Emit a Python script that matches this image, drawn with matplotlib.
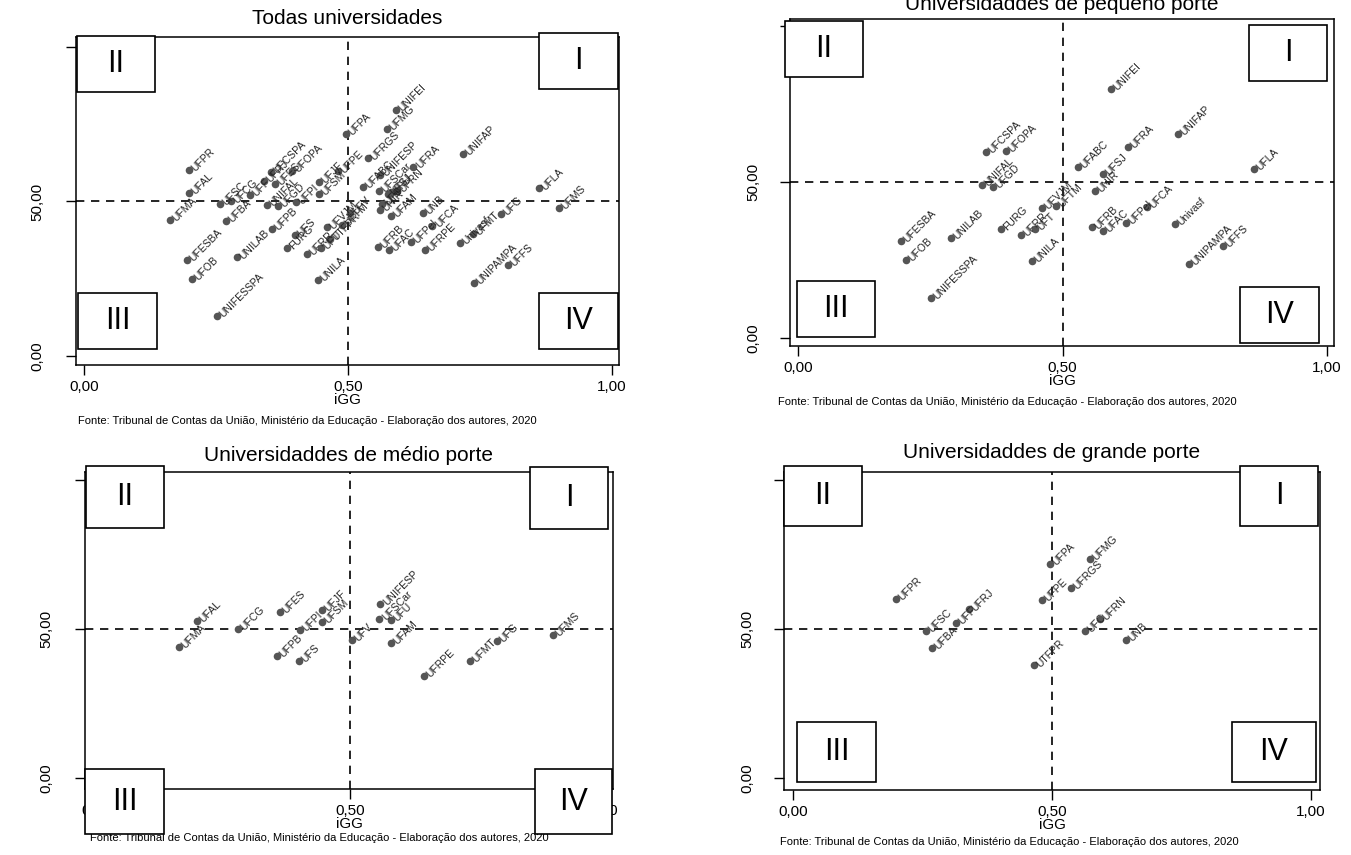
import numpy as np
import matplotlib
matplotlib.use("Agg")
import matplotlib.pyplot as plt
from matplotlib.patches import Rectangle

plt.rcParams['font.family'] = ['Liberation Sans', 'DejaVu Sans']

# universidades de pequeno porte: nome, iGG, outro indice
peq_nomes = ["UFCSPA", "UFOPA", "UNIFAL", "UFGD", "UFESBA", "UFOB", "UNILAB",
             "UNIFESSPA", "FURG", "UFRR", "UFT", "UFVJM", "UFTM", "UNILA",
             "UNIFEI", "UNIFAP", "UFRA", "UFABC", "UFSJ", "UNIR", "UFLA",
             "UFRB", "UFAC", "UFPel", "UFCA", "Univasf", "UNIPAMPA", "UFFS"]
peq_x = [0.355, 0.393, 0.347, 0.368, 0.195, 0.204, 0.289,
         0.251, 0.384, 0.422, 0.448, 0.461, 0.488, 0.443,
         0.591, 0.718, 0.624, 0.529, 0.576, 0.561, 0.862,
         0.556, 0.577, 0.620, 0.660, 0.712, 0.739, 0.803]
peq_y = [59.5, 59.9, 49.0, 48.5, 31.2, 25.0, 31.9,
         12.9, 34.9, 32.9, 34.9, 41.6, 42.3, 24.7,
         79.7, 65.4, 61.3, 54.7, 52.5, 47.2, 54.2,
         35.4, 34.3, 36.8, 42.1, 36.5, 23.7, 29.6]

# universidades de medio porte
med_nomes = ["UFMA", "UFAL", "UFCG", "UFES", "UFPB", "UFS", "UFPI", "UFJF",
             "UFSM", "UFV", "UNIFESP", "UFSCar", "UFU", "UFAM", "UFRPE",
             "UFMT", "UFG", "UFMS"]
med_x = [0.163, 0.198, 0.279, 0.362, 0.356, 0.399, 0.402, 0.445,
         0.445, 0.503, 0.560, 0.558, 0.581, 0.581, 0.646,
         0.736, 0.789, 0.899]
med_y = [43.9, 52.7, 50.0, 55.8, 41.0, 39.3, 49.7, 56.4,
         52.5, 46.3, 58.5, 53.5, 53.0, 45.4, 34.2,
         39.4, 46.1, 47.9]

# universidades de grande porte
gra_nomes = ["UFPR", "UFSC", "UFBA", "UFF", "UFRJ", "UFPA", "UFPE", "UFRGS",
             "UFMG", "UTFPR", "UFC", "UFRN", "UNB"]
gra_x = [0.199, 0.257, 0.269, 0.315, 0.340, 0.497, 0.481, 0.537,
         0.573, 0.466, 0.564, 0.593, 0.642]
gra_y = [60.2, 49.3, 43.6, 52.2, 56.6, 71.9, 59.7, 63.9,
         73.4, 37.8, 49.3, 53.3, 46.4]

todas_nomes = peq_nomes + med_nomes + gra_nomes
todas_x = peq_x + med_x + gra_x
todas_y = peq_y + med_y + gra_y

fonte = "Fonte: Tribunal de Contas da União, Ministério da Educação - Elaboração dos autores, 2020"

W, H = 1351, 855
fig = plt.figure(figsize=(W / 100, H / 100), dpi=100)


def eixo(l, t, r, b):
    return fig.add_axes([l / W, 1 - b / H, (r - l) / W, (b - t) / H])


def caixa(x1, y1, x2, y2, txt):
    fig.add_artist(Rectangle((x1 / W, 1 - y2 / H), (x2 - x1) / W, (y2 - y1) / H,
                             transform=fig.transFigure, facecolor='white',
                             edgecolor='black', lw=1.2, zorder=5))
    fig.text((x1 + x2) / 2 / W, 1 - (y1 + y2) / 2 / H, txt, ha='center',
             va='center', fontsize=22, zorder=6)


paineis = [
    # frame (l,t,r,b), xlim, ylim, titulo, titulo_y, pad_y, fonte (x,y), caixas
    dict(frame=(76, 37, 619, 365), xlim=(-0.0152, 1.0133), ylim=(-2.9, 103.2),
         titulo="Todas universidades", ty=18, pady=16, fx=78, fy=421,
         nomes=todas_nomes, x=todas_x, y=todas_y,
         caixas=[(77, 36, 155, 92, "II"), (539, 33, 618, 89, "I"),
                 (78, 293, 157, 349, "III"), (539, 293, 618, 349, "IV")]),
    dict(frame=(790, 19, 1334, 346), xlim=(-0.0151, 1.0132), ylim=(-2.6, 102.2),
         titulo="Universidaddes de pequeno porte", ty=4, pady=14, fx=778, fy=402,
         nomes=peq_nomes, x=peq_x, y=peq_y,
         caixas=[(785, 21, 863, 77, "II"), (1249, 25, 1327, 81, "I"),
                 (797, 281, 875, 337, "III"), (1240, 287, 1319, 343, "IV")]),
    dict(frame=(85, 472, 613, 789), xlim=(-0.0217, 1.0177), ylim=(-3.7, 102.7),
         titulo="Universidaddes de médio porte", ty=455, pady=16, fx=90, fy=838,
         nomes=med_nomes, x=med_x, y=med_y,
         caixas=[(86, 466, 164, 528, "II"), (530, 467, 608, 529, "I"),
                 (85, 769, 164, 834, "III"), (535, 769, 612, 834, "IV")]),
    dict(frame=(784, 472, 1320, 790), xlim=(-0.0174, 1.0174), ylim=(-4.0, 102.7),
         titulo="Universidaddes de grande porte", ty=452, pady=14, fx=780, fy=842,
         nomes=gra_nomes, x=gra_x, y=gra_y,
         caixas=[(784, 466, 862, 526, "II"), (1240, 466, 1318, 526, "I"),
                 (797, 722, 876, 782, "III"), (1232, 722, 1316, 782, "IV")]),
]

for p in paineis:
    l, t, r, b = p['frame']
    ax = eixo(l, t, r, b)
    ax.set_xlim(*p['xlim'])
    ax.set_ylim(*p['ylim'])
    ax.axvline(0.5, color='black', lw=1.2, ls=(0, (5, 4)), zorder=1)
    ax.axhline(50, color='black', lw=1.2, ls=(0, (5, 4)), zorder=1)
    ax.scatter(p['x'], p['y'], s=30, color='#555555', zorder=3, linewidths=0)
    for nome, xv, yv in zip(p['nomes'], p['x'], p['y']):
        ax.annotate(nome, (xv, yv), xytext=(3, 0), textcoords='offset points',
                    rotation=45, rotation_mode='anchor', ha='left', va='center',
                    fontsize=7.5, color='#222222', zorder=4)
    ax.set_xticks([0, 0.5, 1])
    ax.set_xticklabels(['0,00', '0,50', '1,00'])
    ax.set_yticks([0, 50, 100])
    ax.set_yticklabels(['0,00', '50,00', ''], rotation=90, va='center')
    ax.tick_params(axis='x', length=7, width=1, labelsize=11, pad=4)
    ax.tick_params(axis='y', length=7, width=1, labelsize=11, pad=p['pady'])
    ax.set_xlabel('iGG', fontsize=11, labelpad=-1)
    for s in ax.spines.values():
        s.set_linewidth(1.1)
    fig.text((l + r) / 2 / W, 1 - p['ty'] / H, p['titulo'], ha='center',
             va='center', fontsize=15)
    fig.text(p['fx'] / W, 1 - p['fy'] / H, fonte, ha='left', va='center',
             fontsize=8)
    for c in p['caixas']:
        caixa(*c)

fig.savefig('out.png', dpi=100)
